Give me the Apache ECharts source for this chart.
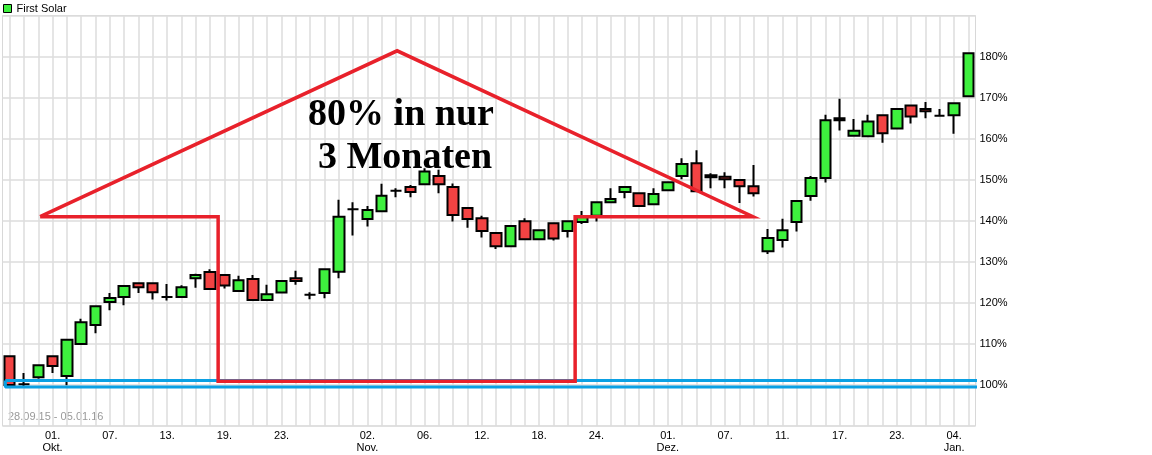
<!DOCTYPE html>
<html>
<head>
<meta charset="utf-8">
<script src="https://cdn.jsdelivr.net/npm/echarts@6/dist/echarts.min.js"></script>
<style>
html,body{margin:0;padding:0;background:#fff;}
#c{width:1152px;height:455px;}
</style>
</head>
<body>
<div id="c"></div>
<script>
const dates = ['28.09.15','29.09.15','30.09.15','01.10.15','02.10.15','05.10.15','06.10.15','07.10.15','08.10.15','09.10.15',
 '12.10.15','13.10.15','14.10.15','15.10.15','16.10.15','19.10.15','20.10.15','21.10.15','22.10.15','23.10.15',
 '26.10.15','27.10.15','28.10.15','29.10.15','30.10.15','02.11.15','03.11.15','04.11.15','05.11.15','06.11.15',
 '09.11.15','10.11.15','11.11.15','12.11.15','13.11.15','16.11.15','17.11.15','18.11.15','19.11.15','20.11.15',
 '23.11.15','24.11.15','25.11.15','26.11.15','27.11.15','30.11.15','01.12.15','02.12.15','03.12.15','04.12.15',
 '07.12.15','08.12.15','09.12.15','10.12.15','11.12.15','14.12.15','15.12.15','16.12.15','17.12.15','18.12.15',
 '21.12.15','22.12.15','23.12.15','28.12.15','29.12.15','30.12.15','04.01.16','05.01.16'];

const openV  = [107.0,100.2,101.9,107.0,102.2,110.0,114.6,120.2,121.4,124.8,
 124.8,121.4,121.4,126.0,127.5,126.8,122.9,125.8,120.7,122.5,
 126.0,122.0,122.4,127.6,142.8,140.4,142.3,147.3,148.2,148.9,
 150.9,148.2,143.1,140.6,137.0,133.8,139.9,135.5,139.4,137.5,
 139.7,141.2,144.5,147.0,146.7,144.0,147.4,150.9,154.0,150.6,
 150.7,149.9,148.4,132.6,135.3,139.7,146.0,150.4,165.0,160.7,
 160.6,165.7,162.5,168.1,167.2,165.6,165.7,170.3];
const closeV = [100.0,100.2,104.8,104.6,111.0,115.3,119.2,121.2,124.1,123.8,
 122.6,121.4,123.8,126.8,123.4,124.2,125.5,120.7,122.1,125.3,
 125.3,122.0,128.2,141.0,142.8,142.6,146.1,147.3,147.0,152.0,
 148.9,141.4,140.4,137.5,133.8,138.7,135.5,137.7,135.7,139.9,
 141.0,144.5,145.3,148.2,143.6,146.5,149.4,153.8,147.2,151.1,
 150.1,148.4,146.7,135.8,137.7,144.8,150.4,164.5,164.5,161.9,
 164.2,161.3,167.2,165.4,166.7,165.6,168.6,180.8];
const lowV   = [99.8,99.7,101.5,102.9,99.9,110.0,112.6,118.2,119.4,122.4,
 120.8,120.6,121.4,123.7,123.4,123.5,122.9,120.7,120.7,122.5,
 124.4,120.9,121.1,126.0,136.4,138.6,142.3,145.7,145.7,148.9,
 146.7,139.8,138.3,135.9,133.1,133.8,135.5,135.5,135.2,135.9,
 139.2,139.8,144.5,145.5,143.6,144.0,147.4,150.1,147.2,147.9,
 147.9,144.3,145.9,131.9,133.5,137.4,144.9,149.3,162.0,160.5,
 160.6,159.0,162.5,163.7,165.0,165.6,161.2,170.3];
const highV  = [107.0,102.9,104.8,107.0,111.0,116.1,119.2,122.4,124.1,124.8,
 125.0,124.6,124.3,127.1,128.2,126.8,126.6,126.8,124.4,125.5,
 127.8,122.6,128.2,145.1,144.5,143.6,149.0,147.9,148.7,152.8,
 152.4,149.1,143.1,141.2,137.0,138.7,140.6,137.7,139.4,139.9,
 142.4,144.5,147.9,148.2,146.7,147.9,149.4,155.2,157.2,151.6,
 151.8,149.9,153.6,138.0,140.5,144.8,150.9,165.8,169.7,164.8,
 165.8,165.7,167.2,168.1,168.9,167.2,168.6,180.8];

const tickIdx  = [3,7,11,15,19,25,29,33,37,41,46,50,54,58,62,66];
const tickText = ['01.\nOkt.','07.','13.','19.','23.','02.\nNov.','06.','12.','18.','24.','01.\nDez.','07.','11.','17.','23.','04.\nJan.'];

const yTicks = [100,110,120,130,140,150,160,170,180];

// annotation shapes in data coordinates (x: position along the day scale, y: percent)
const arrowX = [2.63, 27.58, 52.45, 40.02, 40.02, 15.07, 15.07, 2.63];
const arrowY = [141.0, 181.4, 141.0, 141.0, 100.9, 100.9, 141.0, 141.0];
const baseX  = [0.2, 68.2, 68.2, 0.2, 0.2];
const baseY  = [101.1, 101.1, 99.5, 99.5, 101.1];

const seriesName = 'First Solar';
const noteLine1 = '80% in nur';
const noteLine2 = '3 Monaten';
const rangeText = '28.09.15 - 05.01.16';

const ohlc = dates.map((d, i) => [openV[i], closeV[i], lowV[i], highV[i]]);
const arrowPts = arrowX.map((x, i) => [x, arrowY[i]]);
const basePts = baseX.map((x, i) => [x, baseY[i]]);

const chart = echarts.init(document.getElementById('c'), null, {renderer: 'canvas'});
const GRID = {left: 2.5, right: 176.5, top: 15.5, bottom: 29};
const FONT = '"Liberation Sans", Arial, sans-serif';
const SERIF = 'bold 38px "Liberation Serif", "Times New Roman", serif';

chart.setOption({
  animation: false,
  backgroundColor: '#fff',
  legend: {
    data: [seriesName],
    left: 3, top: 3,
    icon: 'rect', itemWidth: 8, itemHeight: 8, itemGap: 5,
    padding: 0,
    itemStyle: {color: '#3EF03E', borderColor: '#000', borderWidth: 1},
    textStyle: {fontFamily: FONT, fontSize: 11, color: '#000', padding: [0,0,0,0]}
  },
  grid: Object.assign({show: true, borderColor: '#d8d8d8', borderWidth: 1, containLabel: false}, GRID),
  xAxis: [{
    type: 'category',
    data: dates,
    boundaryGap: true,
    axisLine: {show: false},
    axisTick: {show: false},
    splitLine: {show: true, interval: 0, alignWithLabel: true, lineStyle: {color: '#dcdcdc', width: 1.5}},
    axisLabel: {
      interval: (i) => tickIdx.indexOf(i) >= 0,
      formatter: (v, i) => { const k = tickIdx.indexOf(i); return k >= 0 ? tickText[k] : ''; },
      fontFamily: FONT, fontSize: 11, color: '#000', lineHeight: 12, margin: 4
    }
  }, {
    type: 'value', min: 0, max: 68, show: false
  }],
  yAxis: {
    type: 'value', position: 'right', min: 90, max: 190, interval: 10,
    axisLine: {show: false}, axisTick: {show: false},
    splitLine: {show: true, lineStyle: {color: '#dcdcdc', width: 1.5}},
    axisLabel: {
      margin: 4,
      formatter: (v) => yTicks.indexOf(v) >= 0 ? v + '%' : '',
      fontFamily: FONT, fontSize: 11, color: '#000'
    }
  },
  graphic: [
    {type: 'text', left: 8, top: 411, silent: true,
     style: {text: rangeText, font: '11px ' + FONT, fill: '#999'}},
    {type: 'text', x: 401, y: 96, z: 100, silent: true,
     style: {text: noteLine1, font: SERIF, fill: '#000', textAlign: 'center', textVerticalAlign: 'top'}},
    {type: 'text', x: 405, y: 139, z: 100, silent: true,
     style: {text: noteLine2, font: SERIF, fill: '#000', textAlign: 'center', textVerticalAlign: 'top'}}
  ],
  series: [{
    name: seriesName,
    type: 'candlestick',
    data: ohlc,
    barWidth: 11,
    itemStyle: {
      color: '#3EF03E', color0: '#F24343',
      borderColor: '#000', borderColor0: '#000', borderColorDoji: '#000',
      borderWidth: 2
    }
  }, {
    name: 'base', type: 'line', xAxisIndex: 1, data: basePts,
    symbol: 'none', clip: false, silent: true, z: 5,
    lineStyle: {color: '#0BA0E3', width: 3}
  }, {
    name: 'arrow', type: 'line', xAxisIndex: 1, data: arrowPts,
    symbol: 'none', clip: false, silent: true, z: 6,
    lineStyle: {color: '#E8212B', width: 3.5, join: 'miter'}
  }]
});
</script>
</body>
</html>
